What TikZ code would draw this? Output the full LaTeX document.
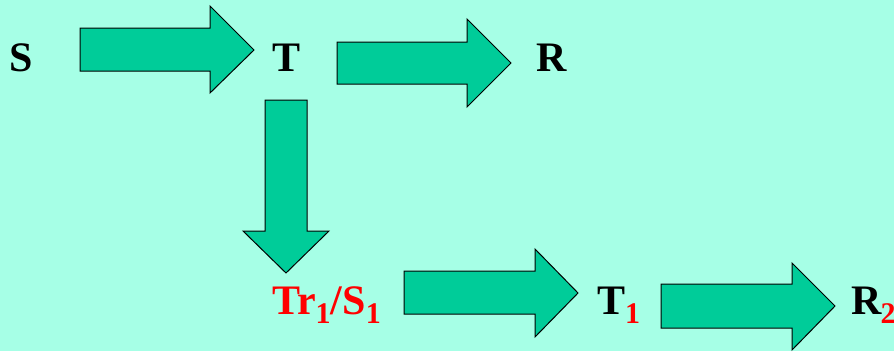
\documentclass[tikz,border=0pt]{standalone}
\usepackage{fontspec}
\setmainfont{Liberation Serif}[BoldFont={Liberation Serif Bold}]
\definecolor{bgc}{HTML}{A6FFE6}
\definecolor{arrc}{HTML}{00CC99}
\definecolor{redc}{HTML}{FF0000}
\newcommand{\mysub}[1]{\raisebox{-9pt}{\fontsize{30}{34}\selectfont #1}}
\begin{document}
\begin{tikzpicture}[x=1pt,y=-1pt,
  blockarrow/.style={draw=black,line width=1pt,fill=arrc,line join=miter},
  lbl/.style={font=\fontsize{42}{46}\selectfont\bfseries,inner sep=0pt,anchor=base west}]
\fill[bgc] (0,0) rectangle (894,351);
\useasboundingbox (0,0) rectangle (894,351);
% block arrows
\draw[blockarrow] (80,28) -- (210,28) -- (210,6) -- (254,50) -- (210,93) -- (210,71) -- (80,71) -- cycle;
\draw[blockarrow] (337,42) -- (467,42) -- (467,19) -- (511,63) -- (467,107) -- (467,84) -- (337,84) -- cycle;
\draw[blockarrow] (265,100) -- (307,100) -- (307,231) -- (329,231) -- (286,273) -- (243,231) -- (265,231) -- cycle;
\draw[blockarrow] (404,271) -- (535,271) -- (535,249) -- (578,293) -- (535,337) -- (535,314) -- (404,314) -- cycle;
\draw[blockarrow] (661,284) -- (792,284) -- (792,263) -- (835,306) -- (792,350) -- (792,328) -- (661,328) -- cycle;
% labels
\node[lbl] (S) at (9,71) {S};
\node[lbl] (T) at (272,71) {T};
\node[lbl] (R) at (536,71) {R};
\node[lbl,text=redc] (TrS) at (272,314) {Tr\mysub{1}/S\mysub{1}};
\node[lbl] (T1) at (597,314) {T\mysub{\textcolor{redc}{1}}};
\node[lbl] (R2) at (851,314) {R\kern-1pt\mysub{\textcolor{redc}{2}}};
\end{tikzpicture}
\end{document}
